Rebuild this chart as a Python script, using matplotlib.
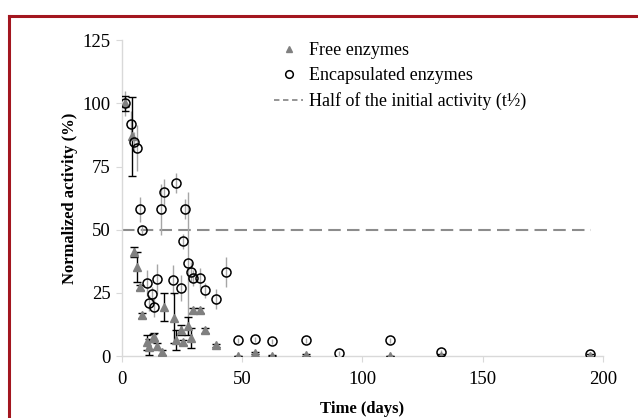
import numpy as np
import matplotlib.pyplot as plt
from matplotlib.lines import Line2D

plt.rcParams['font.family'] = ['Liberation Serif', 'DejaVu Serif']

# Encapsulated enzymes: time (days), normalized activity (%), std dev
enc_t = [1.2, 3.7, 5.0, 6.2, 7.5, 8.3, 10.4, 11.2, 12.5, 13.3, 14.6, 16.2, 17.5,
         21.2, 22.5, 24.5, 25.4, 26.2, 27.4, 28.7, 29.5, 32.4, 34.5, 39.1, 43.2,
         48.2, 55.3, 62.4, 76.5, 90.2, 111.4, 132.6, 194.6]
enc_y = [100, 91.8, 84.6, 82.3, 58.1, 49.8, 28.9, 21.0, 24.5, 19.4, 30.5, 58.1, 64.9,
         30.1, 68.4, 26.9, 45.5, 58.1, 36.8, 33.2, 30.9, 30.9, 26.1, 22.5, 33.2,
         6.3, 6.7, 5.9, 6.3, 1.2, 6.3, 1.6, 0.8]
enc_err = [5, 5, 4, 9, 5, 2, 5, 3, 3, 4, 6, 10, 5,
           6, 4, 5, 3, 4, 28, 4, 3, 4, 3, 4, 6,
           1, 1, 1, 1, 1, 1, 1, 1]

# Free enzymes
free_t = [1.2, 4.2, 5.0, 6.2, 7.5, 8.3, 10.4, 11.2, 12.9, 13.3, 14.6, 16.6, 17.5,
          21.6, 22.5, 24.5, 25.4, 27.4, 28.7, 29.5, 32.4, 34.5, 39.1,
          48.2, 55.3, 62.4, 76.5, 111.4, 132.6, 194.6]
free_y = [100, 87.0, 41.1, 35.2, 27.3, 16.2, 5.5, 3.6, 7.1, 7.5, 4.0, 1.6, 19.4,
          15.0, 6.3, 10.3, 5.5, 11.9, 7.1, 18.2, 18.2, 10.3, 4.3,
          0, 1.2, 0.2, 0.4, 0, 0.2, 0.2]
free_err = [3, 15.6, 2, 6, 1, 1, 3, 3, 1.5, 1.5, 1, 1, 5.5,
            10, 4, 2, 1, 3.5, 4, 1, 1, 1, 0.5,
            0, 0.5, 0.3, 0.5, 0, 0.5, 0.5]

half_t = [0, 195]
half_y = [50, 50]

fig = plt.figure(figsize=(6.38, 4.18), dpi=100)
ax = fig.add_axes([0.191, 0.148, 0.754, 0.756])

ax.errorbar(enc_t, enc_y, yerr=enc_err, fmt='none', ecolor='#a6a6a6',
            elinewidth=1.0, capsize=0, zorder=2)
ax.errorbar(free_t, free_y, yerr=free_err, fmt='none', ecolor='black',
            elinewidth=1.0, capsize=3, capthick=1.0, zorder=3)
ax.plot(half_t, half_y, linestyle=(0, (6, 3)), color='#8c8c8c', lw=1.5, zorder=1)
ax.plot(free_t, free_y, '^', color='#808080', ms=5.5, mec='#808080', zorder=4)
ax.plot(enc_t, enc_y, 'o', mfc='none', mec='black', mew=1.1, ms=6.5, zorder=5)

ax.set_xlim(0, 200)
ax.set_ylim(0, 125)
ax.set_xticks([0, 50, 100, 150, 200])
ax.set_yticks([0, 25, 50, 75, 100, 125])
for s in ['top', 'right']:
    ax.spines[s].set_visible(False)
for s in ['left', 'bottom']:
    ax.spines[s].set_color('#d9d9d9')
    ax.spines[s].set_linewidth(1.0)
ax.tick_params(direction='out', length=4, color='#d9d9d9', labelsize=13.5)
ax.tick_params(axis='y', pad=4)
ax.tick_params(axis='x', pad=7)

ax.set_xlabel('Time (days)', fontsize=12, fontweight='bold', labelpad=9)
ax.set_ylabel('Normalized activity (%)', fontsize=12, fontweight='bold', labelpad=3)

handles = [
    Line2D([], [], marker='^', color='#808080', ls='none', ms=5),
    Line2D([], [], marker='o', mfc='none', mec='black', mew=1.1, ls='none', ms=5.5),
    Line2D([], [], color='#8c8c8c', ls=(0, (3, 2)), lw=1.3),
]
labels = ['Free enzymes', 'Encapsulated enzymes', 'Half of the initial activity (t½)']
ax.legend(handles, labels, loc='upper left', bbox_to_anchor=(0.283, 1.045),
          frameon=False, fontsize=13, handlelength=1.6, handletextpad=0.3,
          labelspacing=0.45)

# red page frame
red = '#a3161f'
fig.add_artist(Line2D([0.014, 1.0], [0.962, 0.962], color=red, lw=2.2,
                      transform=fig.transFigure))
fig.add_artist(Line2D([0.014, 0.014], [0.0, 0.962], color=red, lw=2.2,
                      transform=fig.transFigure))

fig.savefig('out.png', dpi=100)
